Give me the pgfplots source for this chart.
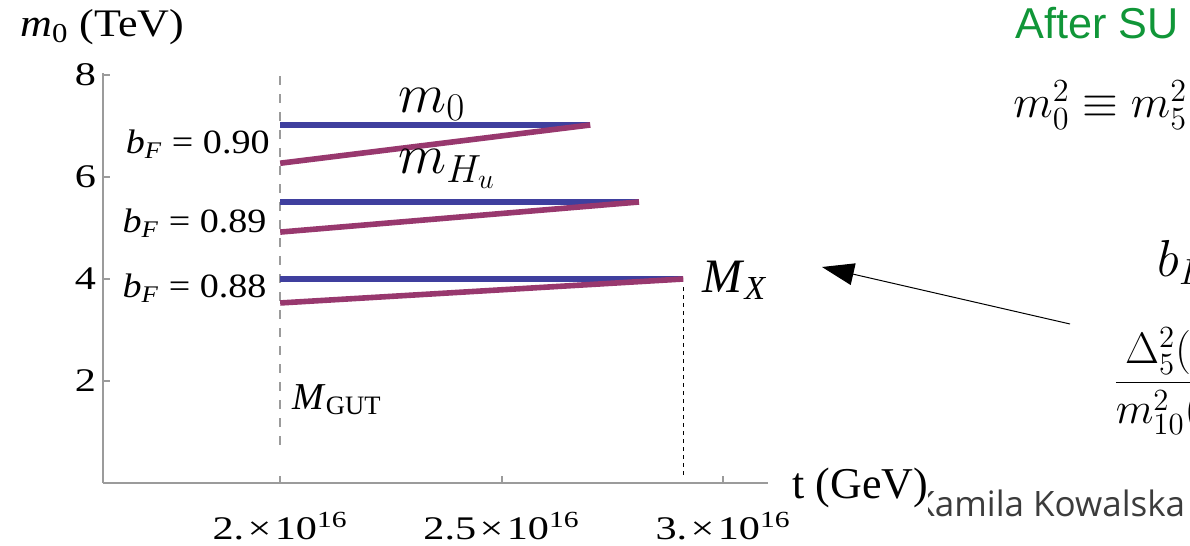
\RequirePackage{fix-cm}
\documentclass[border=0pt]{standalone}
\usepackage[no-math]{fontspec}
\setmainfont{Liberation Serif}
\newfontfamily\slidesans{Liberation Sans}
\newfontfamily\namesans{Open Sans}
\usepackage{graphicx}
\usepackage{pgfplots}
\pgfplotsset{compat=1.18}
\usetikzlibrary{arrows.meta}

\definecolor{mblue}{RGB}{63,63,158}
\definecolor{mmag}{RGB}{152,56,110}
\definecolor{axgray}{RGB}{155,155,155}
\definecolor{slidegreen}{RGB}{16,150,56}
\definecolor{namegray}{RGB}{60,60,60}

% the plot image is stretched sideways on the slide
\newcommand\sx[1]{\scalebox{1.28}[1]{#1}}
\newcommand\sxb[1]{\scalebox{1.12}[1]{#1}}
\newcommand\fs[1]{\fontsize{#1}{#1}\selectfont}

\begin{document}
\begin{tikzpicture}
\useasboundingbox (-51.5pt,-31.5pt) rectangle (543.5pt,241.5pt);
\clip (-51.5pt,-31.5pt) rectangle (543.5pt,241.5pt);

% footer of the slide, partly covered by the plot image
\node[anchor=base west, inner sep=0, font=\namesans\fs{17.5}, text=namegray]
  at (405pt,-17pt) {Kamila Kowalska};
\fill[white] (-51.5pt,-31.5pt) rectangle (412.5pt,241.5pt);

\begin{axis}[
  at={(0pt,0pt)}, anchor=south west,
  x=221.5pt, y=25.5pt,
  xmin=1.6, xmax=3.101, ymin=0, ymax=8.04,
  axis x line*=bottom, axis y line*=left,
  axis line style={draw=axgray, line width=0.8pt, -},
  tick style={draw=axgray, line width=0.8pt},
  major tick length=3.5pt,
  tick align=inside,
  xtick={2,2.5,3}, ytick={2,4,6,8},
  xticklabels={\sx{2.\kern0.08em×\kern0.08em10\textsuperscript{16}},
               \sx{2.5\kern0.08em×\kern0.08em10\textsuperscript{16}},
               \sx{3.\kern0.08em×\kern0.08em10\textsuperscript{16}}},
  yticklabels={\sx{2},\sx{4},\sx{6},\sx{8}},
  tick label style={font=\fs{16.5}},
  xticklabel style={yshift=-11pt},
  clip=false,
]
% M_GUT marker
\addplot[no marks, axgray, line width=0.9pt, dash pattern=on 4.5pt off 4.5pt]
  coordinates {(2,0.75) (2,8.04)};
% M_X marker
\addplot[no marks, black, line width=0.5pt, dash pattern=on 2pt off 2pt]
  coordinates {(2.91,0.16) (2.91,3.88)};

% b_F = 0.90
\addplot[no marks, mblue, line width=2.8pt] coordinates {(2,7.02) (2.70,7.02)};
\addplot[no marks, mmag,  line width=2.8pt] coordinates {(2,6.27) (2.70,7.02)};
% b_F = 0.89
\addplot[no marks, mblue, line width=2.8pt] coordinates {(2,5.51) (2.81,5.51)};
\addplot[no marks, mmag,  line width=2.8pt] coordinates {(2,4.92) (2.81,5.51)};
% b_F = 0.88
\addplot[no marks, mblue, line width=2.8pt] coordinates {(2,4.00) (2.91,4.00)};
\addplot[no marks, mmag,  line width=2.8pt] coordinates {(2,3.53) (2.91,4.00)};

\node[anchor=base east, inner sep=0, font=\fs{17}] at (axis cs:1.977,6.47)
  {\sxb{\textit{b}\textsubscript{\textit{F}} = 0.90}};
\node[anchor=base east, inner sep=0, font=\fs{17}] at (axis cs:1.970,4.92)
  {\sxb{\textit{b}\textsubscript{\textit{F}} = 0.89}};
\node[anchor=base east, inner sep=0, font=\fs{17}] at (axis cs:1.970,3.63)
  {\sxb{\textit{b}\textsubscript{\textit{F}} = 0.88}};

\node[anchor=base west, inner sep=0, font=\fs{28}] at (axis cs:2.266,7.27) {$m_0$};
\node[anchor=base west, inner sep=0, font=\fs{28}] at (axis cs:2.266,6.06) {$m_{H_u}$};
\node[anchor=base west, inner sep=0, font=\fs{24}] at (axis cs:2.952,3.73)
  {\textit{M}\textsubscript{\textit{X}}};
\node[anchor=base west, inner sep=0, font=\fs{19}] at (axis cs:2.027,1.45)
  {\textit{M}\textsubscript{GUT}};
\end{axis}

% axis titles
\node[anchor=base west, inner sep=0, font=\fs{19.5}] at (-41.5pt,223pt)
  {\scalebox{1.13}[1]{\textit{m}\textsubscript{0} (TeV)}};
\node[anchor=base west, inner sep=0, font=\fs{22}] at (344.5pt,-8pt) {t (GeV)};

% slide text beside the plot
\node[anchor=base west, inner sep=0, font=\slidesans\fs{21.6}, text=slidegreen]
  at (456pt,222pt) {After SU};
\node[anchor=base west, inner sep=0, font=\fs{23}] at (455pt,182.5pt)
  {$m_0^2 \equiv m_5^2$};
\node[anchor=base west, inner sep=0, font=\fs{26}] at (527pt,103pt) {$b_F$};
\node[anchor=base west, inner sep=0, font=\fs{22}] at (505pt,45pt)
  {$\displaystyle\frac{\Delta_5^2(M_X)}{m_{10}^2(M_X)}$};
\draw[line width=0.5pt, -{Triangle[length=16pt, width=11pt]}]
  (483.5pt,79.5pt) -- (359.5pt,108pt);
\end{tikzpicture}
\end{document}
